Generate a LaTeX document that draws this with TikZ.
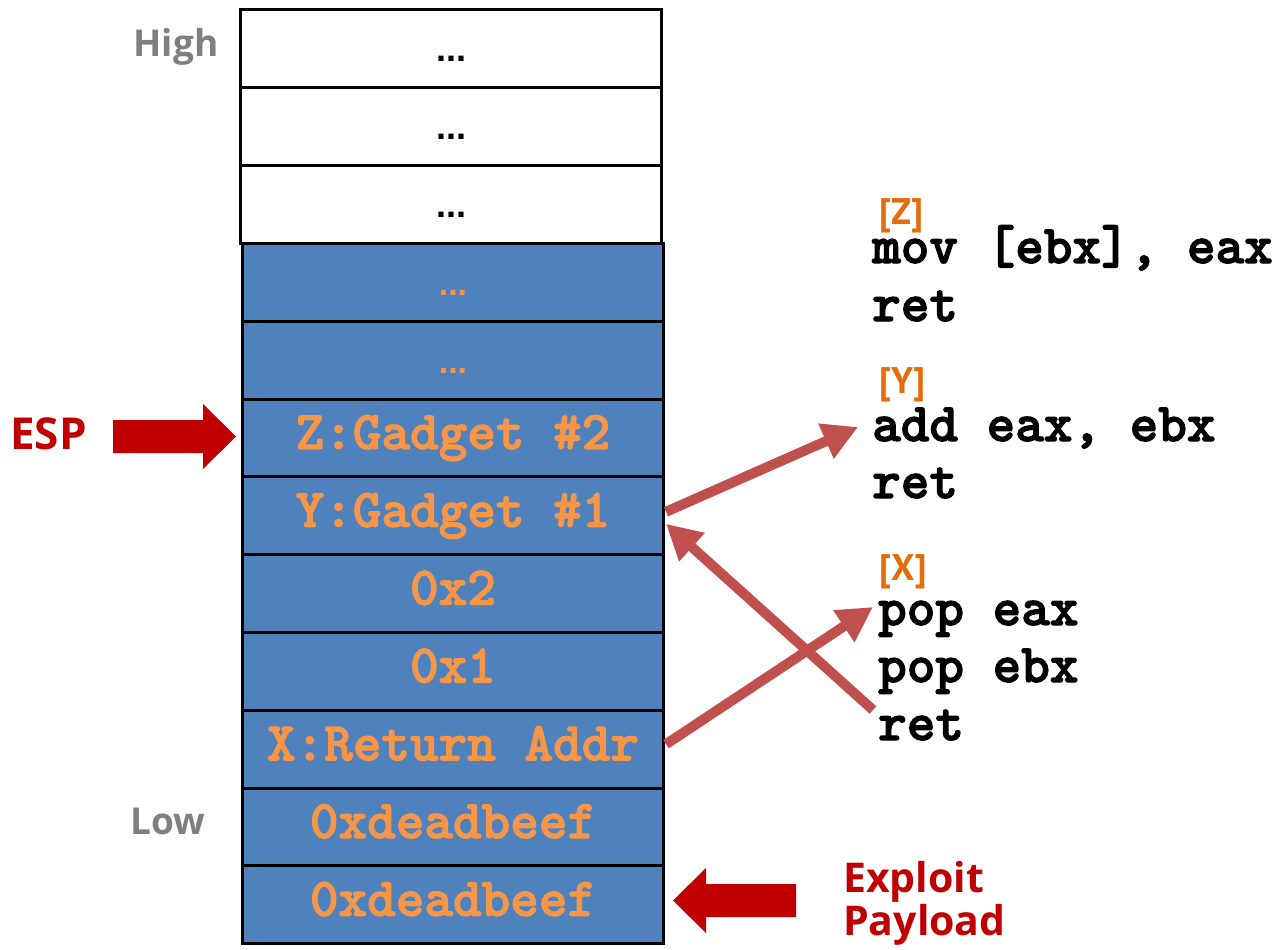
\documentclass[tikz,border=0pt]{standalone}
\usepackage{fontspec}
\setmainfont{Open Sans}
\newfontfamily\codefont{lmmonolt10-bold.otf}[FakeBold=2.2]
\newfontfamily\tagfont{PT Sans}
\newfontfamily\dotfont{Liberation Sans}
\usetikzlibrary{arrows.meta,calc}

\definecolor{cellblue}{HTML}{4F81BD}
\definecolor{cellorange}{HTML}{F79646}
\definecolor{tagorange}{HTML}{E46C0A}
\definecolor{ptrred}{HTML}{C00000}
\definecolor{linkred}{HTML}{C0504D}
\definecolor{sidegray}{HTML}{7F7F7F}

\tikzset{
  slot/.style={draw=black, line width=3pt, minimum width=421pt, inner sep=0pt,
    anchor=north west},
  freeslot/.style={slot, fill=white, minimum height=78pt,
    font=\dotfont\bfseries\fontsize{36}{36}\selectfont, text=black,
    text height=30pt, text depth=4pt},
  usedslot/.style={slot, fill=cellblue, minimum height=77.8pt,
    font=\codefont\bfseries\fontsize{54.5}{54.5}\selectfont, text=cellorange,
    text height=30pt, text depth=8pt},
  fillslot/.style={usedslot, font=\dotfont\bfseries\fontsize{34}{34}\selectfont,
    text height=30pt, text depth=4pt},
  code/.style={anchor=base west, inner sep=0pt, text height=28pt,
    font=\codefont\bfseries\fontsize{54.5}{54.5}\selectfont},
  tag/.style={anchor=base west, inner sep=0pt, text=tagorange,
    font=\tagfont\bfseries\fontsize{37}{37}\selectfont},
  side/.style={anchor=base, inner sep=0pt, text=sidegray,
    font=\bfseries\fontsize{37}{37}\selectfont},
  pointer/.style={anchor=base west, inner sep=0pt, text=ptrred,
    font=\bfseries\fontsize{41}{43}\selectfont},
  link/.style={draw=linkred, line width=10pt,
    -{Triangle[length=35pt,width=36pt]}},
  block/.style={fill=ptrred, draw=none}
}

\begin{document}
\begin{tikzpicture}[x=1pt,y=-1pt]
  \useasboundingbox (0,0) rectangle (1286,950);

  % stack slots, high addresses at the top
  \node[freeslot] (s1) at (239,8)   {...};
  \node[freeslot] (s2) at (239,86)  {...};
  \node[freeslot] (s3) at (239,164) {...};
  \node[fillslot] (s4) at (241,242)   {...};
  \node[fillslot] (s5) at (241,319.8) {...};
  \node[usedslot] (sZ) at (241,397.6) {Z:Gadget \#2};
  \node[usedslot] (sY) at (241,475.4) {Y:Gadget \#1};
  \node[usedslot] (s8) at (241,553.2) {0x2};
  \node[usedslot] (s9) at (241,631)   {0x1};
  \node[usedslot] (sX) at (241,708.8) {X:Return Addr};
  \node[usedslot] (s11) at (241,786.6) {0xdeadbeef};
  \node[usedslot] (s12) at (241,864.4) {0xdeadbeef};

  % address direction
  \node[side] (high) at (176,57)  {High};
  \node[side] (low)  at (168,834) {Low};

  % stack pointer
  \node[pointer, font=\bfseries\fontsize{44}{44}\selectfont] (esp) at (10,449) {ESP};
  \fill[block] (113,420) -- (203,420) -- (203,404) -- (236,436.5)
    -- (203,469) -- (203,453) -- (113,453) -- cycle;

  % payload marker
  \fill[block] (796,884) -- (706,884) -- (706,868) -- (673,900.5)
    -- (706,933) -- (706,917) -- (796,917) -- cycle;
  \node[pointer, align=left] (payload) at (843,935) {Exploit\\Payload};

  % gadgets
  \node[tag]  (tZ) at (879,224) {[Z]};
  \node[code] (z1) at (872,263) {mov [ebx], eax};
  \node[code] (z2) at (872,321) {ret};

  \node[tag]  (tY) at (879,393) {[Y]};
  \node[code] (y1) at (872,441) {add eax, ebx};
  \node[code] (y2) at (872,498) {ret};

  \node[tag]  (tX) at (879,580) {[X]};
  \node[code] (x1) at (878,625) {pop eax};
  \node[code] (x2) at (878,682) {pop ebx};
  \node[code] (x3) at (878,740) {ret};

  % control flow
  \coordinate (toY)   at (858,427);
  \coordinate (toX)   at (873,607);
  \coordinate (fromX) at (873,710);
  \draw[link] ($(sY.east)+(1,-4)$) -- (toY);
  \draw[link] (fromX) -- ($(sY.east)+(1,8)$);
  \draw[link] ($(sX.east)+(1,-5)$) -- (toX);
\end{tikzpicture}
\end{document}
